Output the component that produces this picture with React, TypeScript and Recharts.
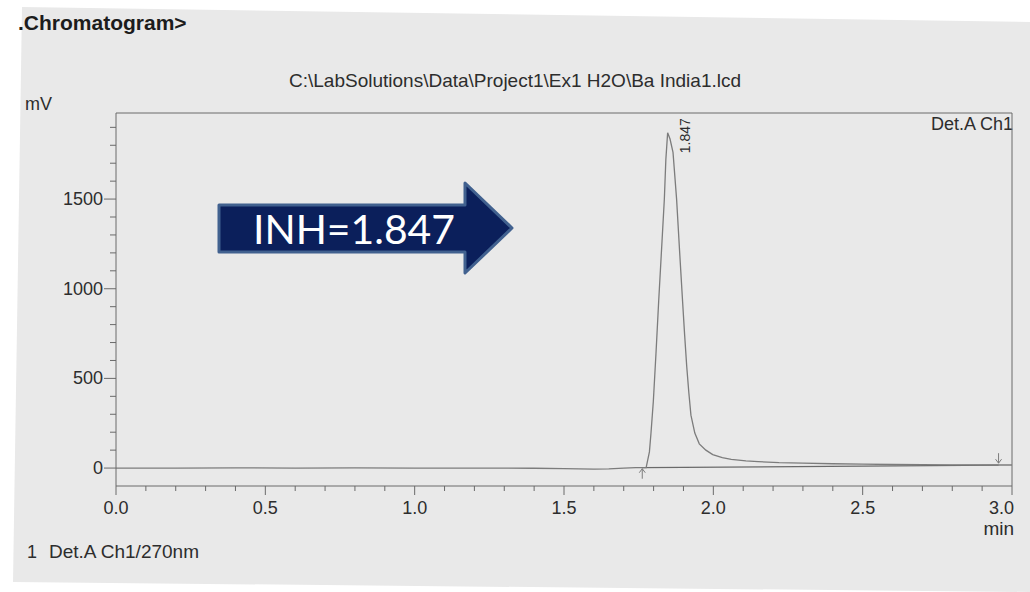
import React from 'react'
import {
  ComposedChart,
  Line,
  XAxis,
  YAxis,
  ReferenceLine,
  ReferenceDot,
} from 'recharts'

/* ─── Data ─────────────────────────────────────────────────────── */

// retention time (min) and detector signal (mV)
const TIME = [
  0, 0.2, 0.4, 0.6, 0.8, 1.0, 1.2, 1.4, 1.5, 1.55, 1.6, 1.65, 1.7, 1.74, 1.76,
  1.775, 1.786, 1.791, 1.799, 1.808, 1.817, 1.827, 1.836, 1.841, 1.847, 1.855,
  1.865, 1.877, 1.887, 1.897, 1.904, 1.911, 1.918, 1.925, 1.938, 1.953, 1.975,
  1.998, 2.03, 2.06, 2.109, 2.15, 2.22, 2.3, 2.4, 2.5, 2.6, 2.7, 2.8, 2.9, 3.0,
]
const SIGNAL = [
  0, 0, 1, 0, 1, 0, 0, -1, -3, -5, -6, -4, 0, 2, 2,
  3, 90, 190, 370, 640, 930, 1230, 1500, 1720, 1870, 1835,
  1760, 1500, 1210, 930, 740, 565, 420, 295, 195, 135, 100,
  75, 58, 48, 40, 36, 30, 27, 24, 22, 20, 19, 18, 17, 17,
]

// integration baseline drawn under the peak
const BASE_TIME = [1.762, 2.955]
const BASE_SIGNAL = [2, 16]

const PEAK_TIME = 1.847
const PEAK_HEIGHT = 1870

const X_TICKS = [
  0, 0.1, 0.2, 0.3, 0.4, 0.5, 0.6, 0.7, 0.8, 0.9, 1.0, 1.1, 1.2, 1.3, 1.4, 1.5,
  1.6, 1.7, 1.8, 1.9, 2.0, 2.1, 2.2, 2.3, 2.4, 2.5, 2.6, 2.7, 2.8, 2.9, 3.0,
]
const Y_TICKS = [
  0, 100, 200, 300, 400, 500, 600, 700, 800, 900, 1000, 1100, 1200, 1300, 1400,
  1500, 1600, 1700, 1800, 1900,
]
const X_DOMAIN = [0, 3]
const Y_DOMAIN = [-100, 1980]

const trace = TIME.map((t, i) => ({ t, mv: SIGNAL[i] }))
const baseline = BASE_TIME.map((t, i) => ({ t, mv: BASE_SIGNAL[i] }))

/* ─── Styles ───────────────────────────────────────────────────── */

const FONT = '"Liberation Sans", Arial, sans-serif'
const INK = '#2d2d2d'
const AXIS = '#6a6a6a'
const TRACE = '#7c7c7c'
const PAPER = '#e9e9e9'

/* ─── Ticks ────────────────────────────────────────────────────── */

function TimeTick({ x, y, payload }: any) {
  const v = payload.value as number
  const major = Math.round(v * 10) % 5 === 0
  const last = v >= 2.99
  return (
    <g>
      <line x1={x} y1={y} x2={x} y2={y + (major ? 9 : 5)} stroke={AXIS} />
      {major && (
        <text
          x={last ? x + 2 : x}
          y={y + 28}
          textAnchor={last ? 'end' : 'middle'}
          fontSize={18}
          fontFamily={FONT}
          fill={INK}
        >
          {v.toFixed(1)}
        </text>
      )}
    </g>
  )
}

function SignalTick({ x, y, payload }: any) {
  const v = payload.value as number
  const major = v % 500 === 0
  return (
    <g>
      <line x1={x - (major ? 12 : 6)} y1={y} x2={x} y2={y} stroke={AXIS} />
      {major && (
        <text
          x={x - 13}
          y={y}
          dy={6}
          textAnchor="end"
          fontSize={18}
          fontFamily={FONT}
          fill={INK}
        >
          {v}
        </text>
      )}
    </g>
  )
}

/* ─── Markers ──────────────────────────────────────────────────── */

function StartMarker({ cx, cy }: any) {
  return (
    <g stroke={TRACE} fill="none">
      <line x1={cx} y1={cy + 1} x2={cx} y2={cy + 11} />
      <polyline points={`${cx - 3},${cy + 5} ${cx},${cy + 1} ${cx + 3},${cy + 5}`} />
    </g>
  )
}

function EndMarker({ cx, cy }: any) {
  return (
    <g stroke={TRACE} fill="none">
      <line x1={cx} y1={cy - 12} x2={cx} y2={cy - 2} />
      <polyline points={`${cx - 3},${cy - 6} ${cx},${cy - 2} ${cx + 3},${cy - 6}`} />
    </g>
  )
}

function PeakLabel({ cx, cy }: any) {
  const lx = cx + 17
  const ly = cy + 3
  return (
    <text
      x={lx}
      y={ly}
      transform={`rotate(-90 ${lx} ${ly})`}
      textAnchor="middle"
      dominantBaseline="central"
      fontSize={14}
      fontFamily={FONT}
      fill={INK}
    >
      {PEAK_TIME.toFixed(3)}
    </text>
  )
}

/* ─── Chart ────────────────────────────────────────────────────── */

export default function App() {
  return (
    <div
      style={{
        position: 'absolute',
        left: 0,
        top: 0,
        width: 1030,
        height: 592,
        background: '#ffffff',
        overflow: 'hidden',
      }}
    >
      <svg
        width={1030}
        height={592}
        style={{ position: 'absolute', left: 0, top: 0 }}
      >
        <polygon points="22,7 1030,22 1030,592 13,582" fill={PAPER} />
        <text x={18} y={30} fontSize={21} fontWeight="bold" fontFamily={FONT} fill="#1c1c1c">
          .Chromatogram&gt;
        </text>
        <text x={515} y={87} textAnchor="middle" fontSize={19} fontFamily={FONT} fill={INK}>
          C:\LabSolutions\Data\Project1\Ex1 H2O\Ba India1.lcd
        </text>
        <text x={25} y={110} fontSize={18} fontFamily={FONT} fill={INK}>
          mV
        </text>
        <text x={1013} y={130} textAnchor="end" fontSize={18} fontFamily={FONT} fill={INK}>
          Det.A Ch1
        </text>
        <text x={1014} y={535} textAnchor="end" fontSize={19} fontFamily={FONT} fill={INK}>
          min
        </text>
        <text x={27} y={558} fontSize={18} fontFamily={FONT} fill={INK}>
          1
        </text>
        <text x={49} y={558} fontSize={19} fontFamily={FONT} fill={INK}>
          Det.A Ch1/270nm
        </text>
      </svg>

      <div style={{ position: 'absolute', left: 0, top: 0 }}>
        <ComposedChart
          width={1030}
          height={592}
          margin={{ top: 113, right: 18, bottom: 76, left: 56 }}
        >
          <XAxis
            dataKey="t"
            type="number"
            domain={X_DOMAIN}
            ticks={X_TICKS}
            interval={0}
            height={30}
            tickSize={0}
            tickMargin={0}
            tickLine={false}
            tick={<TimeTick />}
            axisLine={{ stroke: AXIS }}
            allowDataOverflow
          />
          <YAxis
            type="number"
            domain={Y_DOMAIN}
            ticks={Y_TICKS}
            interval={0}
            width={60}
            tickSize={0}
            tickMargin={0}
            tickLine={false}
            tick={<SignalTick />}
            axisLine={{ stroke: AXIS }}
            allowDataOverflow
          />
          <ReferenceLine y={Y_DOMAIN[1]} stroke={AXIS} />
          <ReferenceLine x={X_DOMAIN[1]} stroke={AXIS} />
          <Line
            data={baseline}
            dataKey="mv"
            type="linear"
            stroke={AXIS}
            strokeWidth={1.2}
            dot={false}
            isAnimationActive={false}
          />
          <Line
            data={trace}
            dataKey="mv"
            type="linear"
            stroke={TRACE}
            strokeWidth={1.3}
            dot={false}
            isAnimationActive={false}
          />
          <ReferenceDot x={BASE_TIME[0]} y={BASE_SIGNAL[0]} r={0} shape={<StartMarker />} />
          <ReferenceDot x={BASE_TIME[1]} y={BASE_SIGNAL[1]} r={0} shape={<EndMarker />} />
          <ReferenceDot x={PEAK_TIME} y={PEAK_HEIGHT} r={0} shape={<PeakLabel />} />
        </ComposedChart>
      </div>

      {/* callout arrow */}
      <svg
        width={1030}
        height={592}
        style={{ position: 'absolute', left: 0, top: 0, pointerEvents: 'none' }}
      >
        <polygon
          points="219,205 465,205 465,183 512,228 465,273 465,252 219,252"
          fill="#0b1f5b"
          stroke="#41618f"
          strokeWidth={3}
          strokeLinejoin="round"
        />
        <text
          x={253}
          y={244}
          fontSize={40}
          fontFamily="Lato, 'Open Sans', sans-serif"
          fill="#ffffff"
          textLength={202}
          lengthAdjust="spacingAndGlyphs"
        >
          INH=1.847
        </text>
      </svg>
    </div>
  )
}
